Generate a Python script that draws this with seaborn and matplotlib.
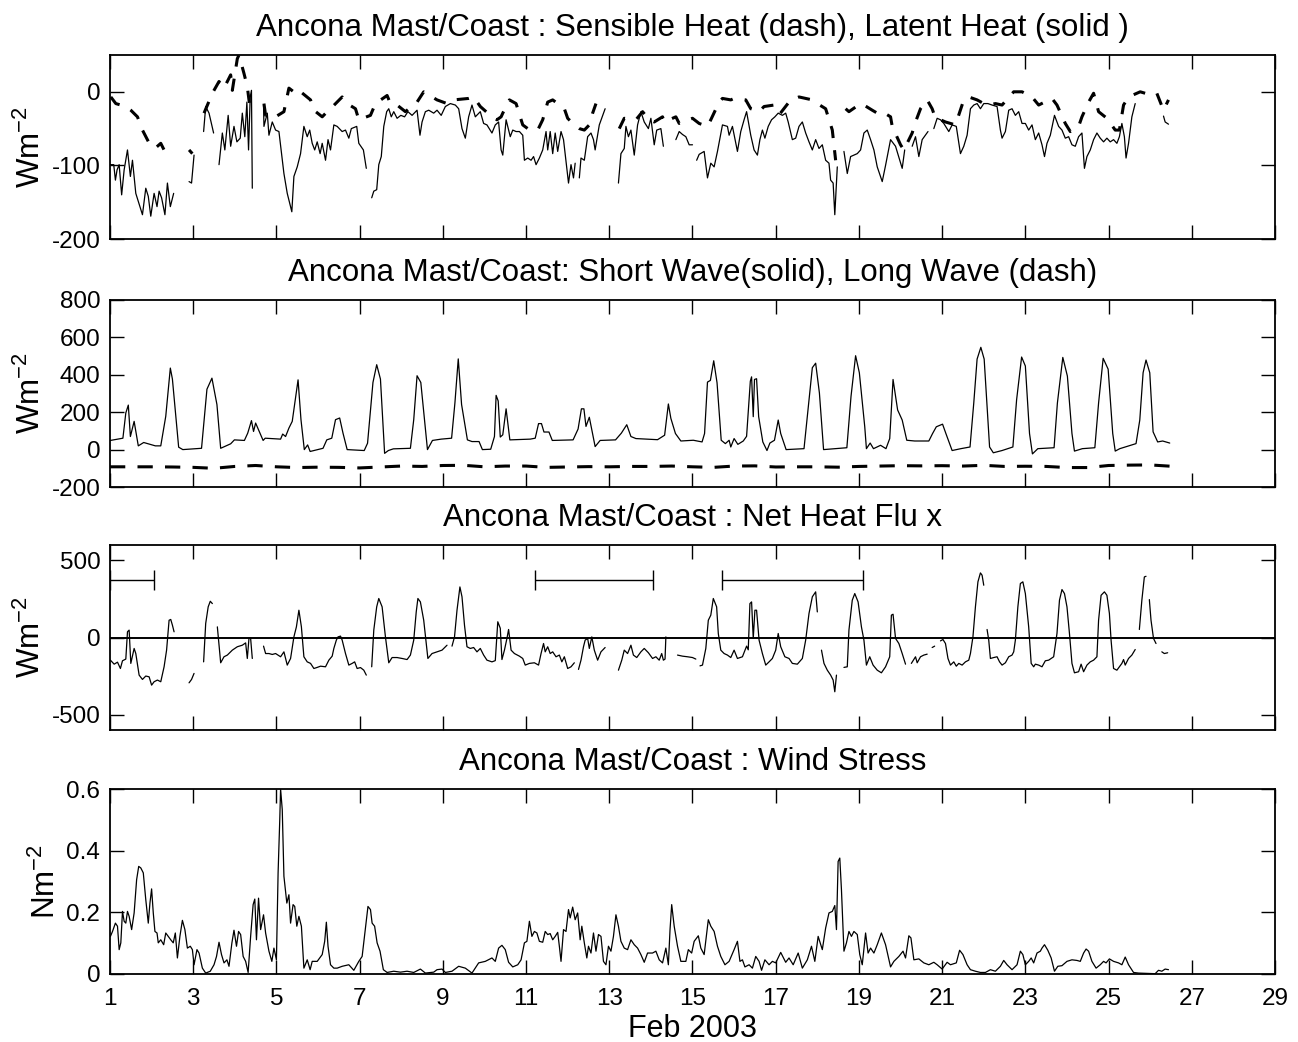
import numpy as np
import pandas as pd
import matplotlib
matplotlib.use("Agg")
import matplotlib.pyplot as plt
import seaborn as sns

nan = np.nan

# ---------------- data (day of Feb 2003, value) ; nan marks a data gap ----------------
latent_day = [1.01, 1.09, 1.13, 1.17, 1.22, 1.28, 1.34, 1.42, 1.49, 1.54, 1.62, 1.78, 1.86, 1.92, 1.98, 2.06, 2.13, 2.18, 2.24, 2.32, 2.38, 2.45, 2.53, nan,
              2.90, 2.96, 3.02, nan,
              3.25, 3.30, 3.38, 3.49, nan,
              3.62, 3.70, 3.76, 3.84, 3.90, 3.98, 4.05, 4.13, 4.18, 4.24, 4.29, 4.33, 4.37, 4.40, 4.42, nan,
              4.69, 4.70, 4.78, 4.82, 4.90, 4.98, 5.06, 5.18, 5.26, 5.37, 5.42, 5.50, 5.58, 5.66, 5.74, 5.80, 5.86, 5.92, 5.98, 6.05, 6.10, 6.18, 6.24, 6.30, 6.38, 6.46, 6.58, 6.66, 6.74, 6.80, 6.93, 6.98, 7.09, 7.16, nan,
              7.29, 7.34, 7.41, 7.46, 7.52, 7.58, 7.65, 7.70, 7.76, 7.82, 7.90, 7.99, 8.08, 8.16, 8.26, 8.38, 8.45, 8.50, 8.58, 8.66, 8.78, 8.86, 8.96, 9.06, 9.18, 9.30, 9.38, 9.46, 9.54, 9.62, 9.70, 9.78, 9.90, 9.98, 10.06, 10.18, 10.26, 10.34, 10.40, 10.44, 10.52, 10.62, 10.68, 10.76, 10.84, 10.92, 10.96, 11.04, 11.12, 11.18, 11.24, 11.32, 11.40, 11.48, 11.52, 11.58, 11.64, 11.70, 11.76, 11.84, 11.90, 12.02, 12.08, 12.14, 12.18, nan,
              12.28, 12.32, 12.40, 12.48, 12.56, 12.62, 12.66, 12.76, 12.90, nan,
              13.22, 13.28, 13.36, 13.40, 13.46, 13.52, 13.60, 13.68, 13.76, 13.84, 13.94, 14.00, 14.08, 14.14, 14.24, 14.30, nan,
              14.60, 14.68, 14.76, 14.84, 14.92, 15.00, nan,
              15.10, 15.16, 15.28, 15.36, 15.44, 15.52, 15.60, 15.72, 15.84, 15.88, 15.96, 16.08, 16.16, 16.24, 16.30, 16.40, 16.48, 16.56, 16.62, 16.68, 16.74, 16.82, 16.90, 16.98, 17.06, 17.16, 17.24, 17.30, 17.40, 17.48, 17.56, 17.64, 17.72, 17.80, 17.88, 17.96, 18.04, 18.12, 18.20, 18.28, 18.32, 18.38, 18.42, 18.48, nan,
              18.64, 18.72, 18.80, 18.88, 18.96, 19.04, 19.12, 19.20, 19.28, 19.36, 19.44, 19.56, 19.64, 19.76, 19.88, 20.04, 20.10, nan,
              20.28, 20.36, 20.44, 20.52, 20.66, nan,
              20.80, 20.88, 20.96, 21.04, 21.16, 21.24, 21.34, 21.44, 21.52, 21.60, 21.68, 21.76, 21.84, 21.92, 22.00, 22.10, 22.20, 22.32, 22.40, 22.44, 22.52, 22.60, 22.68, 22.76, 22.84, 22.92, 23.00, 23.08, 23.16, 23.24, 23.32, 23.40, 23.46, 23.52, 23.60, 23.70, 23.80, 23.88, 23.96, 24.04, 24.12, 24.20, 24.28, 24.36, 24.42, 24.48, 24.56, 24.64, 24.72, 24.80, 24.88, 24.96, 25.04, 25.12, 25.20, 25.26, 25.32, 25.38, 25.42, 25.48, 25.56, 25.64, nan,
              26.32, 26.36, 26.44]
latent_val = [-99, -99, -120, -106, -99, -140, -106, -79, -115, -93, -138, -167, -131, -142, -169, -138, -156, -135, -144, -167, -124, -156, -138, nan,
              -122, -124, -86, nan,
              -54, -20, -29, -56, nan,
              -99, -56, -79, -32, -74, -47, -68, -63, -29, -61, -14, -79, -7, 2, -131, nan,
              -18, -47, -29, -59, -41, -52, -54, -111, -138, -163, -115, -102, -84, -47, -61, -52, -70, -79, -68, -84, -70, -93, -65, -79, -45, -47, -54, -52, -63, -50, -47, -70, -79, -104, nan,
              -144, -135, -133, -99, -88, -47, -27, -23, -34, -27, -36, -32, -34, -27, -32, -25, -59, -41, -27, -25, -29, -25, -32, -20, -16, -18, -23, -50, -63, -34, -18, -34, -27, -43, -45, -56, -45, -41, -79, -86, -38, -61, -52, -54, -54, -59, -93, -90, -93, -88, -99, -90, -79, -54, -79, -54, -84, -56, -81, -54, -65, -124, -99, -117, -97, nan,
              -117, -90, -93, -61, -56, -65, -79, -45, -23, nan,
              -124, -84, -77, -47, -61, -52, -86, -45, -27, -41, -50, -36, -72, -52, -50, -74, nan,
              -65, -54, -58, -61, -72, -72, nan,
              -93, -85, -81, -117, -97, -102, -81, -45, -47, -59, -47, -81, -54, -38, -27, -59, -79, -86, -65, -52, -63, -47, -38, -34, -29, -32, -29, -41, -65, -63, -47, -41, -56, -68, -79, -65, -77, -72, -93, -97, -120, -124, -167, -102, nan,
              -81, -111, -88, -86, -84, -79, -56, -52, -65, -79, -102, -122, -100, -65, -74, -104, -79, nan,
              -74, -61, -88, -65, -54, nan,
              -50, -36, -38, -43, -54, -45, -47, -84, -74, -59, -23, -18, -16, -23, -16, -16, -18, -20, -52, -63, -54, -25, -23, -32, -27, -43, -43, -52, -45, -65, -56, -72, -88, -70, -59, -32, -47, -52, -63, -61, -72, -74, -61, -56, -104, -88, -79, -65, -56, -63, -68, -63, -68, -65, -70, -61, -43, -61, -90, -70, -34, -16, nan,
              -33, -41, -44]

sensible_day = [1.02, 1.14, 1.38, 1.50, 1.66, 1.78, 1.98, 2.10, 2.22, 2.30, 2.38, 2.46, nan,
                2.90, 2.98, nan,
                3.26, 3.46, 3.62, 3.74, 3.90, 3.94, 4.06, 4.10, 4.22, 4.30, 4.34, 4.38, nan,
                4.70, 4.74, 4.95, 5.18, 5.30, 5.46, 5.54, 5.82, 5.90, 6.10, 6.22, 6.30, 6.58, 6.70, 6.90, 6.98, 7.26, 7.38, 7.66, 7.74, 7.90, 8.10, 8.38, 8.54, 8.86, 9.10, 9.26, 9.62, 9.74, 9.90, 10.10, 10.30, 10.40, 10.44, 10.60, 10.76, 10.92, 11.04, 11.28, 11.40, 11.52, 11.64, 11.76, 11.92, 12.00, 12.16, 12.28, 12.40, 12.52, 12.60, 12.68, nan,
                13.24, 13.36, 13.64, 13.80, 13.96, 14.08, 14.28, 14.32, 14.60, 14.68, 15.00, 15.16, 15.36, 15.44, 15.64, 15.72, 15.92, 16.00, 16.28, 16.40, 16.60, 16.72, 16.96, 17.10, 17.36, 17.56, 17.88, 18.00, 18.20, 18.36, 18.44, nan,
                18.68, 18.76, 19.04, 19.12, 19.32, 19.44, 19.56, 19.76, 19.80, 20.00, 20.08, 20.28, 20.36, 20.48, 20.64, 20.76, 20.84, 20.96, 21.08, 21.32, 21.52, 21.64, 21.84, 22.00, 22.12, 22.28, 22.44, 22.72, 22.92, 23.16, 23.32, 23.64, 23.76, 23.96, 24.08, 24.28, 24.36, 24.52, 24.64, 24.76, 24.96, 25.16, 25.26, 25.36, 25.48, 25.76, 25.88, 26.04, 26.16, 26.32, 26.44]
sensible_val = [-7, -16, -20, -25, -34, -52, -74, -76, -70, -79, -70, -72, nan,
                -79, -84, nan,
                -29, -2, 14, 5, 23, 2, 45, 50, 25, 7, -11, -25, nan,
                -16, -32, -35, -27, 5, -2, 2, -11, -25, -34, -27, -23, -7, -16, -23, -38, -32, -16, -5, -16, -18, -27, -14, 0, -11, -16, -11, -9, -7, -20, -30, -38, -34, -29, -11, -16, -45, -50, -52, -38, -14, -11, -16, -23, -36, -45, -50, -52, -45, -29, -16, nan,
                -50, -36, -38, -27, -38, -41, -34, -41, -34, -43, -36, -43, -47, -38, -14, -9, -11, -9, -11, -23, -27, -20, -18, -30, -11, -7, -11, -16, -23, -52, -93, nan,
                -23, -27, -16, -18, -25, -29, -27, -34, -47, -72, -79, -56, -41, -23, -11, -23, -36, -38, -41, -45, -11, -7, -11, -16, -18, -16, -18, 0, 0, -7, -18, -9, -18, -43, -54, -47, -34, -14, -2, -27, -36, -52, -52, -18, -7, 0, -2, 0, -2, -25, -11]

shortwave_day = [1.01, 1.31, 1.38, 1.44, 1.49, 1.58, 1.68, 1.81, 2.09, 2.22, 2.34, 2.45, 2.50, 2.65, 2.75, 3.20, 3.33, 3.45, 3.57, 3.66, 3.90, 3.99, 4.23, 4.31, 4.40, 4.45, 4.50, 4.68, 4.73, 5.10, 5.15, 5.22, 5.30, 5.38, 5.52, 5.59, 5.67, 5.75, 5.81, 6.12, 6.21, 6.33, 6.42, 6.52, 6.60, 6.70, 7.11, 7.19, 7.32, 7.41, 7.50, 7.60, 7.69, 7.81, 8.22, 8.30, 8.38, 8.47, 8.63, 8.75, 8.96, 9.21, 9.29, 9.37, 9.45, 9.59, 9.70, 9.87, 9.95, 10.15, 10.24, 10.28, 10.33, 10.38, 10.44, 10.52, 10.61, 11.10, 11.22, 11.30, 11.37, 11.43, 11.55, 11.63, 12.13, 12.25, 12.33, 12.39, 12.44, 12.52, 12.66, 12.78, 13.15, 13.29, 13.42, 13.52, 13.64, 14.16, 14.33, 14.42, 14.48, 14.59, 14.72, 15.02, 15.23, 15.29, 15.36, 15.43, 15.51, 15.59, 15.69, 15.79, 15.88, 15.92, 16.00, 16.09, 16.22, 16.30, 16.39, 16.42, 16.46, 16.49, 16.54, 16.59, 16.69, 16.79, 16.86, 16.97, 17.06, 17.12, 17.25, 17.68, 17.81, 17.88, 17.96, 18.05, 18.15, 18.71, 18.81, 18.92, 19.01, 19.14, 19.18, 19.27, 19.35, 19.52, 19.65, 19.74, 19.82, 19.93, 20.04, 20.15, 20.34, 20.68, 20.77, 20.86, 21.01, 21.09, 21.24, 21.45, 21.67, 21.76, 21.84, 21.93, 22.01, 22.14, 22.23, 22.44, 22.70, 22.79, 22.91, 23.00, 23.10, 23.17, 23.30, 23.69, 23.77, 23.90, 24.01, 24.12, 24.18, 24.37, 24.67, 24.76, 24.87, 24.99, 25.10, 25.16, 25.27, 25.66, 25.75, 25.83, 25.90, 25.99, 26.07, 26.18, 26.30, 26.47]
shortwave_val = [49, 61, 196, 238, 70, 151, 20, 38, 20, 20, 178, 436, 377, 13, 0, 7, 323, 382, 241, 7, 31, 52, 49, 88, 155, 97, 142, 49, 61, 56, 83, 70, 115, 151, 373, 160, 0, 25, -10, 7, 52, 61, 160, 169, 88, 0, -5, 34, 359, 454, 377, -20, -5, 4, 7, 160, 395, 359, 0, 49, 56, 61, 250, 485, 241, 52, 43, 43, 0, 2, 70, 290, 260, 67, 79, 218, 52, 56, 61, 139, 139, 94, 94, 49, 52, 110, 218, 218, 124, 173, 16, 49, 52, 88, 133, 70, 59, 53, 77, 244, 167, 86, 46, 50, 41, 86, 361, 370, 475, 357, 50, 32, 50, 14, 59, 28, 46, 71, 366, 389, 176, 375, 379, 176, 41, -5, 35, 50, 158, 86, 0, 5, 285, 438, 462, 303, 0, 10, 285, 502, 411, 122, 5, 35, 5, 23, 5, 59, 375, 212, 158, 50, 46, 46, 86, 122, 136, 86, -5, 5, 14, 249, 484, 547, 484, 14, -17, -5, 14, 267, 495, 447, 86, -23, 5, 10, 249, 493, 393, 86, -8, 5, 10, 249, 488, 430, 86, -8, 5, 32, 158, 411, 479, 411, 95, 41, 46, 35]

longwave_day = [1.0, 1.5, 2.0, 2.5, 3.0, 3.5, 4.0, 4.5, 5.0, 5.5, 6.0, 6.5, 7.0, 7.5, 8.0, 8.5, 9.0, 9.5, 10.0, 10.5, 11.0, 11.5, 12.0, 12.5, 13.0, 13.5, 14.0, 14.5, 15.0, 15.5, 16.0, 16.5, 17.0, 17.5, 18.0, 18.5, 19.0, 19.5, 20.0, 20.5, 21.0, 21.5, 22.0, 22.5, 23.0, 23.5, 24.0, 24.5, 25.0, 25.5, 26.0, 26.5]
longwave_val = [-92, -92, -92, -93, -95, -100, -90, -85, -92, -96, -94, -95, -98, -93, -88, -90, -85, -84, -92, -88, -88, -95, -93, -91, -92, -90, -90, -88, -92, -95, -88, -87, -93, -92, -92, -94, -90, -88, -86, -87, -86, -88, -84, -90, -89, -90, -96, -96, -85, -83, -82, -89]

netheat_day = [1.01, 1.10, 1.18, 1.25, 1.30, 1.38, 1.42, 1.46, 1.50, 1.58, 1.62, 1.70, 1.78, 1.86, 1.94, 2.00, 2.06, 2.14, 2.22, 2.30, 2.36, 2.42, 2.46, 2.50, 2.54, nan,
               2.90, 2.96, 3.02, nan,
               3.25, 3.30, 3.36, 3.41, 3.46, nan,
               3.58, 3.66, 3.74, 3.82, 3.94, 4.06, 4.18, 4.26, 4.30, 4.34, 4.38, 4.42, nan,
               4.69, 4.74, 4.82, 4.90, 4.98, 5.10, 5.18, 5.26, 5.34, 5.42, 5.48, 5.54, 5.60, 5.66, 5.74, 5.82, 5.90, 5.98, 6.06, 6.18, 6.26, 6.34, 6.38, 6.44, 6.48, 6.54, 6.58, 6.66, 6.74, 6.82, 6.88, 6.94, 7.02, 7.10, 7.16, nan,
               7.29, 7.34, 7.41, 7.46, 7.54, 7.62, 7.70, 7.78, 7.90, 8.02, 8.14, 8.22, 8.30, 8.36, 8.40, 8.46, 8.54, 8.64, 8.74, 8.86, 8.98, 9.10, nan,
               9.22, 9.28, 9.34, 9.41, 9.46, 9.52, 9.58, 9.66, 9.74, 9.82, 9.90, 9.98, 10.06, 10.18, 10.26, 10.32, 10.38, 10.42, 10.48, 10.54, 10.58, 10.64, 10.72, 10.84, 10.92, 10.98, 11.08, 11.20, 11.30, 11.36, 11.42, 11.46, 11.52, 11.58, 11.64, 11.72, 11.80, 11.86, 11.92, 12.00, 12.08, 12.16, nan,
               12.26, 12.32, 12.38, 12.42, 12.48, 12.52, 12.58, 12.64, 12.72, 12.80, 12.90, nan,
               13.22, 13.30, 13.36, 13.44, 13.52, 13.58, 13.66, 13.76, 13.84, 13.94, 14.04, 14.12, 14.20, 14.26, 14.30, 14.34, 14.36, nan,
               14.64, 14.76, 14.88, 15.00, 15.08, nan,
               15.18, 15.24, 15.32, 15.38, 15.44, 15.50, 15.58, 15.62, 15.68, 15.76, 15.84, 15.92, 16.00, 16.08, 16.20, 16.30, 16.34, 16.38, 16.42, 16.46, 16.50, 16.54, 16.60, 16.68, 16.76, 16.84, 16.92, 17.00, 17.06, 17.12, 17.22, 17.32, 17.40, 17.52, 17.64, 17.72, 17.80, 17.88, 17.96, 18.00, nan,
               18.10, 18.16, 18.24, 18.32, 18.38, 18.42, 18.46, nan,
               18.64, 18.72, 18.76, 18.84, 18.90, 18.98, 19.06, 19.12, 19.18, 19.26, 19.34, 19.44, 19.54, 19.64, 19.74, 19.78, 19.82, 19.88, 19.96, 20.04, 20.12, nan,
               20.26, 20.36, 20.40, 20.48, 20.56, 20.64, nan,
               20.76, 20.82, nan,
               20.96, 21.02, 21.08, 21.14, 21.20, 21.28, 21.34, 21.40, 21.48, 21.56, 21.64, 21.68, 21.74, 21.80, 21.86, 21.92, 21.96, 22.00, nan,
               22.08, 22.12, 22.16, 22.24, 22.32, 22.38, 22.44, 22.52, 22.60, 22.68, 22.72, 22.76, 22.82, 22.88, 22.94, 23.00, 23.08, 23.14, 23.20, 23.24, 23.32, 23.40, 23.48, 23.56, 23.68, 23.76, 23.82, 23.88, 23.94, 24.00, 24.06, 24.12, 24.18, 24.28, 24.34, 24.40, 24.48, 24.56, 24.64, 24.72, 24.76, 24.82, 24.90, 24.96, 25.02, 25.06, 25.12, 25.20, 25.26, 25.32, 25.36, 25.40, 25.48, 25.56, 25.64, nan,
               25.74, 25.80, 25.86, 25.90, nan,
               25.98, 26.02, 26.08, 26.14, nan,
               26.28, 26.34, 26.42]
netheat_val = [-147, -173, -160, -201, -151, -140, 37, 48, -168, -71, -104, -244, -272, -250, -255, -309, -287, -276, -287, -190, -82, 112, 117, 80, 37, nan,
               -294, -272, -233, nan,
               -158, 91, 199, 235, 220, nan,
               69, -164, -125, -114, -82, -60, -50, -35, -136, -6, -6, -136, nan,
               -56, -104, -104, -110, -104, -125, -93, -179, -136, 4, 69, 177, 69, -125, -158, -168, -201, -194, -186, -190, -147, -121, -71, -17, 4, 9, -17, -104, -179, -168, -158, -201, -195, -212, -244, nan,
               -190, 48, 199, 253, 199, 4, -164, -130, -130, -136, -143, -114, -17, 166, 253, 231, 112, -136, -104, -93, -82, -50, nan,
               -56, 4, 177, 328, 264, 80, -60, -71, -65, -93, -71, -114, -147, -158, -150, 102, 60, -143, -82, -6, 52, -82, -104, -121, -136, -179, -168, -164, -179, -104, -39, -93, -60, -104, -93, -125, -114, -158, -125, -201, -190, -164, nan,
               -207, -147, -60, -17, -6, -71, 4, -82, -147, -93, -65, nan,
               -212, -147, -82, -104, -50, -114, -130, -93, -71, -99, -136, -125, -147, -104, -147, -140, 4, nan,
               -114, -121, -125, -130, -140, nan,
               -184, -179, -71, 112, 145, 253, 199, 26, -82, -104, -114, -130, -82, -136, -125, -56, -80, 220, 231, -6, 177, 177, -17, -104, -179, -158, -136, -82, 26, -60, -125, -136, -168, -173, -136, -17, 156, 264, 296, 166, nan,
               -82, -168, -212, -244, -276, -352, -244, nan,
               -194, -190, 48, 242, 285, 231, 69, -17, -179, -125, -179, -212, -229, -190, -125, 145, 151, -6, -39, -104, -173, nan,
               -168, -125, -164, -125, -114, -108, nan,
               -65, -56, nan,
               -22, -13, -39, -136, -179, -158, -186, -168, -179, -158, -147, -104, 4, 199, 361, 419, 404, 339, nan,
               52, -17, -136, -130, -125, -158, -179, -164, -125, -114, -93, -17, 199, 350, 361, 285, 69, -168, -190, -173, -179, -190, -151, -147, -125, 26, 242, 311, 285, 199, 26, -168, -229, -222, -173, -222, -179, -158, -147, -125, 112, 274, 296, 274, 156, -17, -201, -212, -190, -168, -143, -179, -136, -114, -78, nan,
               52, 242, 393, 397, nan,
               246, 112, -6, -39, nan,
               -93, -104, -99]

# horizontal interval bars drawn on the net heat flux panel (start day, end day, level)
bar_start = [1.0, 11.22, 15.72]
bar_end = [2.05, 14.04, 19.10]
bar_level = [372, 372, 372]

stress_day = [1.01, 1.06, 1.13, 1.18, 1.22, 1.26, 1.30, 1.34, 1.38, 1.42, 1.46, 1.52, 1.58, 1.64, 1.69, 1.74, 1.80, 1.86, 1.92, 1.96, 2.00, 2.04, 2.08, 2.13, 2.16, 2.22, 2.29, 2.34, 2.40, 2.46, 2.52, 2.57, 2.62, 2.68, 2.74, 2.80, 2.86, 2.93, 2.98, 3.02, 3.09, 3.14, 3.22, 3.30, 3.41, 3.50, 3.56, 3.62, 3.68, 3.74, 3.81, 3.86, 3.93, 3.98, 4.04, 4.09, 4.14, 4.20, 4.26, 4.32, 4.38, 4.44, 4.48, 4.52, 4.57, 4.62, 4.69, 4.74, 4.82, 4.89, 4.94, 5.00, 5.04, 5.08, 5.10, 5.14, 5.18, 5.25, 5.30, 5.34, 5.40, 5.44, 5.49, 5.54, 5.60, 5.66, 5.74, 5.81, 5.86, 5.98, 6.10, 6.16, 6.20, 6.24, 6.30, 6.38, 6.46, 6.58, 6.74, 6.86, 6.98, 7.06, 7.14, 7.20, 7.26, 7.30, 7.36, 7.42, 7.49, 7.57, 7.66, 7.82, 7.98, 8.14, 8.30, 8.46, 8.58, 8.78, 8.86, 8.98, 9.06, 9.22, 9.38, 9.54, 9.70, 9.86, 10.02, 10.18, 10.26, 10.34, 10.42, 10.50, 10.58, 10.68, 10.80, 10.88, 10.96, 11.02, 11.08, 11.14, 11.20, 11.26, 11.32, 11.40, 11.46, 11.52, 11.58, 11.64, 11.70, 11.76, 11.80, 11.84, 11.90, 11.96, 12.02, 12.06, 12.12, 12.18, 12.24, 12.30, 12.34, 12.40, 12.46, 12.50, 12.56, 12.62, 12.68, 12.74, 12.80, 12.86, 12.92, 12.98, 13.04, 13.10, 13.16, 13.22, 13.28, 13.36, 13.44, 13.52, 13.60, 13.68, 13.76, 13.84, 13.92, 14.04, 14.12, 14.20, 14.28, 14.36, 14.42, 14.46, 14.50, 14.56, 14.64, 14.72, 14.84, 14.90, 14.98, 15.04, 15.14, 15.20, 15.28, 15.38, 15.44, 15.52, 15.60, 15.68, 15.78, 15.88, 16.00, 16.08, 16.14, 16.20, 16.26, 16.36, 16.44, 16.52, 16.60, 16.66, 16.74, 16.84, 16.92, 17.00, 17.12, 17.24, 17.32, 17.42, 17.54, 17.64, 17.76, 17.86, 17.94, 18.02, 18.12, 18.20, 18.28, 18.36, 18.42, 18.46, 18.50, 18.54, 18.58, 18.64, 18.70, 18.76, 18.82, 18.88, 18.96, 19.02, 19.08, 19.16, 19.22, 19.28, 19.36, 19.44, 19.54, 19.64, 19.76, 19.84, 19.96, 20.06, 20.12, 20.20, 20.25, 20.32, 20.44, 20.56, 20.68, 20.80, 20.88, 21.00, 21.12, 21.20, 21.34, 21.42, 21.50, 21.60, 21.68, 21.80, 21.92, 22.04, 22.16, 22.28, 22.40, 22.48, 22.56, 22.68, 22.80, 22.88, 22.94, 23.00, 23.08, 23.14, 23.20, 23.28, 23.36, 23.40, 23.46, 23.54, 23.62, 23.70, 23.78, 23.88, 24.00, 24.12, 24.24, 24.32, 24.40, 24.46, 24.52, 24.60, 24.70, 24.80, 24.88, 24.94, 25.02, 25.12, 25.24, 25.32, 25.40, 25.48, 25.60, 25.72, 25.96, 26.12, 26.20, 26.28, 26.36, 26.44]
stress_val = [.122, .138, .165, .155, .079, .101, .203, .171, .165, .203, .187, .144, .198, .306, .349, .344, .328, .241, .165, .230, .276, .198, .138, .133, .101, .111, .095, .133, .122, .111, .101, .133, .052, .122, .174, .144, .084, .090, .079, .030, .079, .068, .019, .003, .009, .030, .057, .103, .063, .036, .046, .025, .101, .142, .090, .138, .128, .057, .041, .005, .122, .225, .243, .111, .246, .144, .192, .133, .074, .041, .084, .046, .328, .500, .600, .533, .317, .230, .257, .165, .225, .219, .155, .187, .155, .019, .046, .014, .041, .041, .063, .106, .168, .090, .030, .019, .019, .025, .030, .012, .041, .057, .149, .219, .209, .165, .155, .101, .074, .014, .005, .009, .006, .009, .005, .016, .003, .006, .014, .016, .005, .009, .025, .019, .003, .036, .041, .052, .041, .084, .093, .079, .038, .023, .030, .046, .101, .106, .171, .122, .138, .133, .106, .103, .138, .128, .131, .111, .122, .135, .090, .041, .144, .138, .209, .182, .217, .176, .198, .111, .155, .101, .052, .090, .068, .133, .074, .128, .122, .041, .030, .090, .074, .122, .192, .155, .106, .084, .079, .111, .095, .084, .063, .038, .068, .068, .074, .046, .036, .084, .030, .144, .225, .155, .090, .041, .041, .079, .068, .106, .124, .084, .063, .176, .155, .138, .090, .057, .030, .041, .079, .106, .041, .046, .023, .030, .019, .057, .041, .012, .046, .030, .041, .036, .070, .038, .052, .030, .068, .019, .046, .090, .041, .122, .079, .149, .198, .203, .222, .144, .365, .376, .273, .074, .101, .138, .122, .138, .128, .063, .030, .133, .068, .084, .068, .095, .133, .095, .023, .041, .057, .074, .052, .124, .117, .046, .049, .036, .030, .038, .030, .016, .038, .030, .036, .077, .063, .030, .014, .009, .005, .005, .014, .009, .025, .044, .030, .014, .030, .074, .063, .030, .041, .052, .036, .068, .074, .084, .095, .077, .052, .009, .025, .027, .041, .046, .044, .041, .068, .081, .074, .041, .019, .030, .041, .036, .049, .041, .036, .030, .055, .030, .005, .003, .002, .001, .012, .009, .016, .014]

titles = ["Ancona Mast/Coast : Sensible Heat (dash), Latent Heat (solid )",
          "Ancona Mast/Coast: Short Wave(solid), Long Wave (dash)",
          "Ancona Mast/Coast : Net Heat Flu x",
          "Ancona Mast/Coast : Wind Stress"]
ylabels = [r"Wm$^{\mathregular{-2}}$", r"Wm$^{\mathregular{-2}}$",
           r"Wm$^{\mathregular{-2}}$", r"Nm$^{\mathregular{-2}}$"]
x_ticks = list(range(1, 30, 2))
y_ticks = [[-200, -100, 0], [-200, 0, 200, 400, 600, 800], [-500, 0, 500], [0, 0.2, 0.4, 0.6]]
y_ticklabels = [["-200", "-100", "0"], ["-200", "0", "200", "400", "600", "800"],
                ["-500", "0", "500"], ["0", "0.2", "0.4", "0.6"]]
y_limits = [(-200, 50), (-200, 800), (-600, 600), (0, 0.6)]
xlabel = "Feb 2003"


def as_frame(days, vals):
    """Long-form frame; each run between gaps gets its own unit id."""
    df = pd.DataFrame({"day": days, "val": vals})
    df["seg"] = df["val"].isna().cumsum()
    return df.dropna().reset_index(drop=True)


# ---------------- style ----------------
sns.set_theme(style="white")
plt.rcParams["font.family"] = ["Liberation Sans", "DejaVu Sans"]
plt.rcParams["mathtext.fontset"] = "custom"
plt.rcParams["mathtext.rm"] = "Liberation Sans"
plt.rcParams["mathtext.it"] = "Liberation Sans:italic"
plt.rcParams["axes.unicode_minus"] = False
plt.rcParams["text.color"] = "black"
plt.rcParams["axes.labelcolor"] = "black"

W, H = 1298, 1042
fig = plt.figure(figsize=(W / 100, H / 100), dpi=100)
fig.patch.set_facecolor("white")

left, right = 110, 1275
boxes = [(55, 239), (300, 487), (545, 730), (789, 974)]
axes = []
for top, bot in boxes:
    ax = fig.add_axes([left / W, 1 - bot / H, (right - left) / W, (bot - top) / H])
    axes.append(ax)

solid_kw = dict(color="black", lw=0.9, estimator=None, sort=False)

# panel 1: turbulent heat fluxes
ax = axes[0]
sns.lineplot(data=as_frame(latent_day, latent_val), x="day", y="val", units="seg", ax=ax, **solid_kw)
sens = as_frame(sensible_day, sensible_val)
for _, g in sens.groupby("seg"):
    ax.plot(g["day"], g["val"], color="black", lw=2.2, linestyle=(0, (4, 4)))

# panel 2: radiative fluxes
ax = axes[1]
sns.lineplot(data=as_frame(shortwave_day, shortwave_val), x="day", y="val", units="seg", ax=ax, **solid_kw)
lw_df = as_frame(longwave_day, longwave_val)
ax.plot(lw_df["day"], lw_df["val"], color="black", lw=2.2, linestyle=(0, (5, 4)))

# panel 3: net heat flux with zero line and interval bars
ax = axes[2]
ax.axhline(0, color="black", lw=1.4, zorder=1)
sns.lineplot(data=as_frame(netheat_day, netheat_val), x="day", y="val", units="seg", ax=ax, **solid_kw)
for s, e, lev in zip(bar_start, bar_end, bar_level):
    ax.errorbar([(s + e) / 2], [lev], xerr=[(e - s) / 2], color="black", lw=1.0,
                capsize=7, capthick=1.0, fmt="none")

# panel 4: wind stress
ax = axes[3]
sns.lineplot(data=as_frame(stress_day, stress_val), x="day", y="val", units="seg", ax=ax, **solid_kw)

for i, ax in enumerate(axes):
    ax.set_xlim(1, 29)
    ax.set_ylim(*y_limits[i])
    ax.set_xticks(x_ticks)
    ax.set_yticks(y_ticks[i])
    ax.set_yticklabels(y_ticklabels[i])
    ax.tick_params(direction="in", length=10, width=1.0, top=True, right=True,
                   bottom=True, left=True, labelsize=17.5, colors="black")
    ax.tick_params(axis="y", pad=7)
    ax.tick_params(axis="x", pad=10)
    if i < 3:
        ax.set_xticklabels([])
        ax.set_xlabel("")
    else:
        ax.set_xticklabels([str(t) for t in x_ticks])
        ax.set_xlabel(xlabel, fontsize=22, labelpad=3)
    ax.set_ylabel(ylabels[i], fontsize=22.5, labelpad=3)
    ax.set_title(titles[i], fontsize=22.5, pad=14, color="black")
    for sp in ax.spines.values():
        sp.set_color("black")
        sp.set_linewidth(1.3)
        sp.set_visible(True)
    ax.grid(False)
    if ax.get_legend() is not None:
        ax.get_legend().remove()

fig.savefig("out.png", dpi=100, facecolor="white")
